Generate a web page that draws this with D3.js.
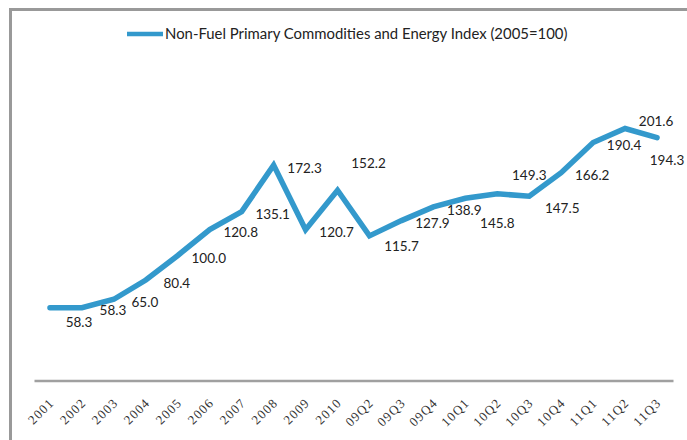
<!DOCTYPE html>
<html>
<head>
<meta charset="utf-8">
<script src="https://cdn.jsdelivr.net/npm/d3@7"></script>
<style>
  body { margin: 0; background: #fff; }
</style>
</head>
<body>
<script>
// data
var categories = ["2001", "2002", "2003", "2004", "2005", "2006", "2007", "2008", "2009", "2010",
    "09Q2", "09Q3", "09Q4", "10Q1", "10Q2", "10Q3", "10Q4", "11Q1", "11Q2", "11Q3"];
var indexValues = [58.3, 58.3, 65.0, 80.4, 100.0, 120.8, 135.1, 172.3, 120.7, 152.2,
    115.7, 127.9, 138.9, 145.8, 149.3, 147.5, 166.2, 190.4, 201.6, 194.3];
var seriesName = "Non-Fuel Primary Commodities and Energy Index (2005=100)";

var svgWidth = 687;
var svgHeight = 440;
var lineColor = "#3399cc";

var svg = d3.select("body").append("svg")
    .attr("width", svgWidth)
    .attr("height", svgHeight);

// frame (top + left edges only)
svg.append("path")
    .attr("d", "M10.5,440 L10.5,9.5 L687,9.5")
    .attr("fill", "none")
    .attr("stroke", "#999")
    .attr("stroke-width", 3);

var xScale = d3.scaleBand()
    .domain(categories)
    .range([34, 673]);
var yScale = d3.scaleLinear()
    .domain([0, 250])
    .range([380.5, 68]);

function cx(d) { return xScale(d) + xScale.bandwidth() / 2; }

// x axis
var xAxis = d3.axisBottom(xScale).tickSize(0).tickPadding(0);
var gx = svg.append("g")
    .attr("transform", "translate(0,380.5)")
    .call(xAxis);
gx.select(".domain")
    .attr("stroke", "#a0a0a0")
    .attr("stroke-width", 2.5);
gx.selectAll(".tick text")
    .attr("font-family", "Liberation Serif, serif")
    .attr("font-size", 13)
    .attr("letter-spacing", 1.2)
    .attr("fill", "#333")
    .attr("text-anchor", "end")
    .attr("dy", 0)
    .attr("transform", "translate(5,23) rotate(-45)");

// the line
var line = d3.line()
    .x(function(d, i) { return cx(categories[i]); })
    .y(function(d) { return yScale(d); });
svg.append("path")
    .datum(indexValues)
    .attr("d", line)
    .attr("fill", "none")
    .attr("stroke", lineColor)
    .attr("stroke-width", 5.5)
    .attr("stroke-linejoin", "miter")
    .attr("stroke-linecap", "round");

// data labels - most sit about one step right of their point, a few are nudged
var nudge = {0: [29, 15], 9: [31, -27], 10: [32, 10], 13: [32, 25], 14: [32, -19],
    15: [33, 12], 18: [31, -7], 19: [10, 23]};
svg.append("g").selectAll("text")
    .data(indexValues)
    .enter().append("text")
    .attr("x", function(d, i) { return cx(categories[i]) + (nudge[i] ? nudge[i][0] : 31); })
    .attr("y", function(d, i) { return yScale(d) + (nudge[i] ? nudge[i][1] : 3); })
    .attr("dy", "0.35em")
    .attr("text-anchor", "middle")
    .attr("font-family", "Lato, sans-serif")
    .attr("font-size", 13.5)
    .attr("fill", "#222")
    .text(function(d) { return d.toFixed(1); });

// legend
svg.append("line")
    .attr("x1", 127).attr("x2", 163)
    .attr("y1", 34).attr("y2", 34)
    .attr("stroke", lineColor)
    .attr("stroke-width", 4.5);
svg.append("text")
    .attr("x", 165)
    .attr("y", 39)
    .attr("font-family", "Lato, sans-serif")
    .attr("font-size", 14.9)
    .attr("fill", "#222")
    .text(seriesName);
</script>
</body>
</html>
